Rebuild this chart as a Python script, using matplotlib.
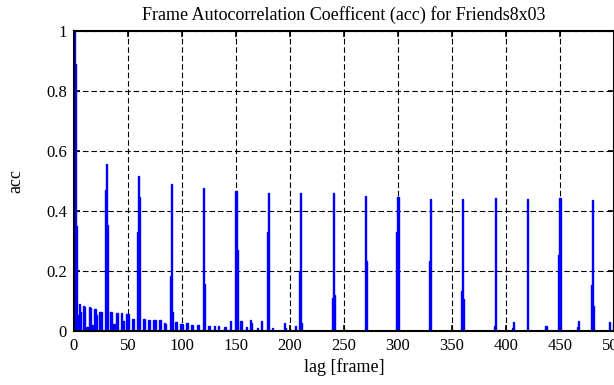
import matplotlib
matplotlib.use("Agg")
import matplotlib.pyplot as plt

# lag [frame] and autocorrelation value, only the non-zero lags
lags = [0, 1, 2,
        4, 5, 6, 9, 10, 12, 14, 15, 17, 19, 20, 21, 24, 25,
        29, 30, 31,
        34, 35, 37, 39, 40, 44, 45, 46, 49, 50, 54, 55,
        59, 60, 61,
        64, 65, 69, 70, 74, 75, 79, 80, 84, 85,
        89, 90, 91,
        94, 95, 99, 100, 104, 105, 109, 110, 114, 115,
        120, 121,
        125, 130, 134, 139, 140, 145,
        150, 151,
        154, 155, 160, 163, 164, 170, 174,
        179, 180,
        184, 195, 196, 200, 205,
        209, 210, 211,
        239, 240, 241,
        270, 271,
        299, 300,
        329, 330,
        359, 360, 361,
        389, 390,
        406, 407,
        420,
        436, 437,
        449, 450,
        466, 467,
        479, 480, 481,
        496, 500]
acc = [1.0, 0.89, 0.35,
       0.053, 0.091, 0.064, 0.083, 0.080, 0.012, 0.080, 0.078, 0.020, 0.072, 0.072, 0.055, 0.063, 0.063,
       0.47, 0.555, 0.353,
       0.064, 0.064, 0.022, 0.061, 0.061, 0.061, 0.033, 0.033, 0.058, 0.058, 0.039, 0.039,
       0.33, 0.517, 0.447,
       0.040, 0.040, 0.038, 0.038, 0.036, 0.036, 0.036, 0.036, 0.028, 0.022,
       0.183, 0.49, 0.065,
       0.030, 0.030, 0.022, 0.022, 0.028, 0.028, 0.020, 0.020, 0.020, 0.020,
       0.477, 0.158,
       0.017, 0.017, 0.017, 0.013, 0.013, 0.033,
       0.465, 0.27,
       0.033, 0.033, 0.012, 0.037, 0.028, 0.009, 0.033,
       0.33, 0.46,
       0.009, 0.028, 0.009, 0.005, 0.017,
       0.20, 0.46, 0.028,
       0.109, 0.46, 0.12,
       0.45, 0.235,
       0.33, 0.448,
       0.235, 0.44,
       0.133, 0.44, 0.106,
       0.017, 0.443,
       0.010, 0.030,
       0.44,
       0.005, 0.017,
       0.253, 0.443,
       0.013, 0.033,
       0.153, 0.435, 0.083,
       0.030, 0.030]

xticks = [0, 50, 100, 150, 200, 250, 300, 350, 400, 450, 500]
yticks = [0, 0.2, 0.4, 0.6, 0.8, 1]
ytick_labels = ["0", "0.2", "0.4", "0.6", "0.8", "1"]

plt.rcParams["font.family"] = ["Liberation Serif", "DejaVu Serif"]
plt.rcParams["font.size"] = 12

fig = plt.figure(figsize=(6.14, 3.85), dpi=100)
ax = fig.add_axes([74 / 614, 1 - 331 / 385, 540 / 614, 300 / 385])

ax.bar(lags, acc, width=1.0, color="#0000ff", edgecolor="#0000ff", linewidth=1.0)

ax.set_xlim(0, 500)
ax.set_ylim(0, 1)
ax.set_xticks(xticks)
ax.set_yticks(yticks)
ax.set_yticklabels(ytick_labels)
ax.set_axisbelow(True)
ax.grid(True, color="black", linestyle=(0, (5, 2.6)), linewidth=0.8)
ax.tick_params(direction="in", length=4.5, width=1.2, top=True, right=True, pad=5)
for s in ax.spines.values():
    s.set_linewidth(1.5)

ax.set_title("Frame Autocorrelation Coefficent (acc) for Friends8x03", fontsize=13, pad=8)
ax.set_xlabel("lag [frame]", fontsize=13, labelpad=3)
ax.set_ylabel("acc", fontsize=13, labelpad=16)

fig.savefig("out.png", dpi=100)
